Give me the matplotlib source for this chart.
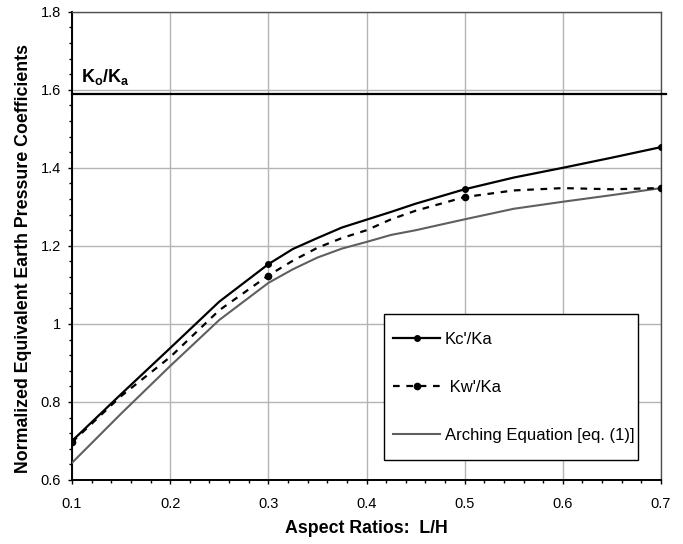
import matplotlib
matplotlib.use("Agg")
import matplotlib.pyplot as plt
from matplotlib.ticker import MultipleLocator, FuncFormatter
from matplotlib.patches import Rectangle

plt.rcParams['font.family'] = ['Liberation Sans', 'DejaVu Sans']
plt.rcParams['mathtext.fontset'] = 'custom'
plt.rcParams['mathtext.rm'] = 'Liberation Sans'
plt.rcParams['mathtext.bf'] = 'Liberation Sans:bold'

# Data
x = [0.1, 0.15, 0.2, 0.25, 0.3, 0.325, 0.35, 0.375, 0.4, 0.425, 0.45, 0.5, 0.55, 0.6, 0.65, 0.7]
kc = [0.70, 0.82, 0.938, 1.057, 1.153, 1.192, 1.220, 1.247, 1.267, 1.287, 1.308, 1.345, 1.375, 1.400, 1.426, 1.453]
kw = [0.697, 0.815, 0.915, 1.035, 1.124, 1.162, 1.195, 1.220, 1.240, 1.268, 1.290, 1.325, 1.342, 1.348, 1.345, 1.348]
arch = [0.644, 0.770, 0.892, 1.010, 1.105, 1.140, 1.170, 1.193, 1.210, 1.228, 1.240, 1.268, 1.295, 1.313, 1.330, 1.348]
marker_x = [0.1, 0.3, 0.5, 0.7]
ko_ka = 1.59

marker_idx = [x.index(v) for v in marker_x]

fig = plt.figure(figsize=(6.83, 5.44), dpi=100)
ax = fig.add_axes([72/683, 64/544, 589/683, 468.3/544])

ax.plot(x, arch, color='#5f5f5f', lw=1.5, label='Arching Equation [eq. (1)]', zorder=3)
ax.plot(x, kw, color='black', lw=1.6, ls=(0, (3, 3)), marker='o', ms=4.5, markevery=marker_idx,
        label=" Kw'/Ka", zorder=4)
ax.plot(x, kc, color='black', lw=1.6, marker='o', ms=4, markevery=marker_idx, label="Kc'/Ka", zorder=5)
ax.axhline(ko_ka, color='black', lw=1.6, xmin=0, xmax=1.008, clip_on=False, zorder=5)
ax.text(0.1089, 1.619, r'$\mathbf{K_o/K_a}$', fontsize=13, ha='left', va='baseline')

ax.set_xlim(0.1, 0.7)
ax.set_ylim(0.6, 1.8)
ax.xaxis.set_major_locator(MultipleLocator(0.1))
ax.xaxis.set_minor_locator(MultipleLocator(0.02))
ax.yaxis.set_major_locator(MultipleLocator(0.2))
ax.yaxis.set_minor_locator(MultipleLocator(0.04))
fmt = FuncFormatter(lambda v, p: ('%g' % round(v, 2)))
ax.yaxis.set_major_formatter(fmt)
ax.xaxis.set_major_formatter(fmt)
ax.grid(True, which='major', color='#b4b4b4', lw=1)
ax.set_axisbelow(True)

ax.tick_params(which='major', direction='out', length=3, width=1, labelsize=10.5, color='black')
ax.tick_params(which='minor', direction='out', length=2.5, width=1, color='black')
ax.tick_params(axis='x', pad=9)
ax.tick_params(axis='y', pad=5)
for s in ['left', 'bottom']:
    ax.spines[s].set_color('black')
    ax.spines[s].set_linewidth(1.4)
for s in ['top', 'right']:
    ax.spines[s].set_color('#505050')
    ax.spines[s].set_linewidth(1.0)

ax.set_xlabel('Aspect Ratios:  L/H', fontsize=12.8, fontweight='bold')
ax.set_ylabel('Normalized Equivalent Earth Pressure Coefficients', fontsize=12.8, fontweight='bold')
ax.xaxis.set_label_coords(0.5, -0.086)
ax.yaxis.set_label_coords(-0.068, 0.474)

# legend box
box = Rectangle((0.530, 0.043), 0.431, 0.311, transform=ax.transAxes, facecolor='white',
                edgecolor='black', lw=1.0, zorder=6)
ax.add_patch(box)

h, l = ax.get_legend_handles_labels()
order = [2, 1, 0]
leg = ax.legend([h[i] for i in order], [l[i] for i in order], loc='upper left',
                bbox_to_anchor=(0.530 + 9/589, 0.354 - 18/468), frameon=False,
                fontsize=12, handlelength=2.8, handletextpad=0.3,
                labelspacing=1.98, borderpad=0.0, borderaxespad=0)
leg.set_zorder(7)

fig.savefig('out.png', dpi=100)
